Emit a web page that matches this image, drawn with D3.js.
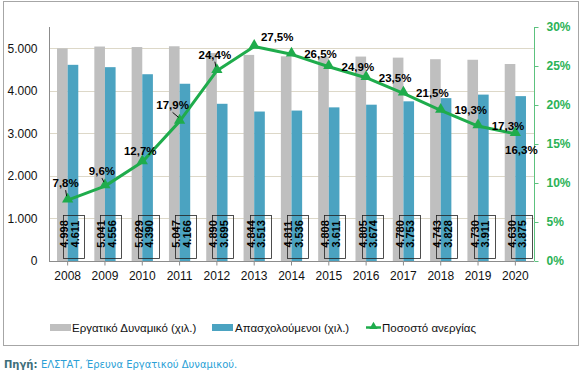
<!DOCTYPE html>
<html>
<head>
<meta charset="utf-8">
<script src="https://cdn.jsdelivr.net/npm/d3@7"></script>
<style>
  body { margin: 0; background: #fff; }
  svg { display: block; }
</style>
</head>
<body>
<div id="chart"></div>
<script>
// =======================
// COMBO CHART
// Labour force, employed (thousands) and unemployment rate
// =======================

const years = ["2008", "2009", "2010", "2011", "2012", "2013", "2014", "2015", "2016", "2017", "2018", "2019", "2020"];
const labourForce = [4998, 5041, 5029, 5047, 4890, 4844, 4811, 4808, 4805, 4780, 4743, 4730, 4630];
const employed = [4611, 4556, 4390, 4166, 3695, 3513, 3536, 3611, 3674, 3753, 3828, 3911, 3875];
const unemploymentRate = [7.8, 9.6, 12.7, 17.9, 24.4, 27.5, 26.5, 24.9, 23.5, 21.5, 19.3, 17.3, 16.3];
const leftTicks = [0, 1000, 2000, 3000, 4000, 5000];
const rightTicks = [0, 5, 10, 15, 20, 25, 30];
const seriesNames = ["Εργατικό Δυναμικό (χιλ.)", "Απασχολούμενοι (χιλ.)", "Ποσοστό ανεργίας"];

// label placement for the % labels (dx, dy from the point, leader line yes/no)
const pctLabelPos = [
  [-2, -17, true], [-3, -15, true], [-2, -11, false], [-7, -16, true], [-2, -16, true],
  [23, -10, false], [29, 0, false], [29, 0, false], [29, 0, false], [29, 0, false],
  [30, 0, false], [30, 0, false], [6, 16, false]
];

const width = 581, height = 371;
const plot = { left: 49, right: 534, top: 27, bottom: 261 };

const grayColor = "#bfbfbf", blueColor = "#4ba3c1", greenColor = "#1fac4c";

const gr = d3.formatLocale({ decimal: ",", thousands: ".", grouping: [3], currency: ["", "€"] });
const fmtInt = gr.format(",d");
const fmtPct = gr.format(".1f");

const svg = d3.select("#chart").append("svg")
  .attr("width", width)
  .attr("height", height)
  .style("font-family", "'Liberation Sans', Arial, sans-serif");

// frame around chart
svg.append("rect")
  .attr("x", 3.5).attr("y", 1.5)
  .attr("width", 575).attr("height", 344)
  .attr("fill", "#fff")
  .attr("stroke", "#a6a6a6");

// Scales
const x = d3.scaleBand().domain(years).range([plot.left, plot.right]).padding(0);
const yL = d3.scaleLinear().domain([0, 5500]).range([plot.bottom, plot.top]);
const yR = d3.scaleLinear().domain([0, 30]).range([plot.bottom, plot.top]);
const barW = x.bandwidth() * 0.285;
const cx = d => x(d) + x.bandwidth() / 2;

// Gridlines
svg.append("g").selectAll("line")
  .data(leftTicks.filter(t => t > 0))
  .enter().append("line")
    .attr("x1", plot.left).attr("x2", plot.right)
    .attr("y1", d => Math.round(yL(d)) + 0.5)
    .attr("y2", d => Math.round(yL(d)) + 0.5)
    .attr("stroke", "#ddd8c8");

// Bars
svg.append("g").selectAll("rect")
  .data(years)
  .enter().append("rect")
    .attr("x", d => cx(d) - barW)
    .attr("y", (d, i) => yL(labourForce[i]))
    .attr("width", barW)
    .attr("height", (d, i) => plot.bottom - yL(labourForce[i]))
    .attr("fill", grayColor);

svg.append("g").selectAll("rect")
  .data(years)
  .enter().append("rect")
    .attr("x", d => cx(d))
    .attr("y", (d, i) => yL(employed[i]))
    .attr("width", barW)
    .attr("height", (d, i) => plot.bottom - yL(employed[i]))
    .attr("fill", blueColor);

// Left axis
const leftAxis = svg.append("g")
  .attr("transform", `translate(${plot.left + 0.5},0)`)
  .call(d3.axisLeft(yL).tickValues(leftTicks).tickSize(0).tickPadding(12).tickFormat(fmtInt));
leftAxis.select(".domain").attr("stroke", "#8c8c8c").attr("d", `M0,${plot.top}V${plot.bottom}`);
leftAxis.selectAll("text").attr("font-size", 12).attr("font-family", "'Liberation Sans', Arial, sans-serif").attr("fill", "#111");

// Bottom axis
const bottomAxis = svg.append("g")
  .attr("transform", `translate(0,${plot.bottom + 0.5})`)
  .call(d3.axisBottom(x).tickSize(4).tickPadding(6));
bottomAxis.select(".domain").attr("stroke", "#8c8c8c").attr("d", `M${plot.left},0H${plot.right}`);
bottomAxis.selectAll("line").attr("stroke", "#8c8c8c");
bottomAxis.selectAll("text").attr("font-size", 12).attr("font-family", "'Liberation Sans', Arial, sans-serif").attr("fill", "#111");

// Right axis
const rightAxis = svg.append("g")
  .attr("transform", `translate(${plot.right + 0.5},0)`)
  .call(d3.axisRight(yR).tickValues(rightTicks).tickSize(4).tickPadding(8).tickFormat(d => d + "%"));
rightAxis.select(".domain").attr("stroke", "#5cc27e").attr("d", `M0,${plot.top}V${plot.bottom}`);
rightAxis.selectAll("line").attr("stroke", "#5cc27e");
rightAxis.selectAll("text")
  .attr("font-size", 12)
  .attr("font-weight", "bold")
  .attr("font-family", "'Liberation Sans', Arial, sans-serif")
  .attr("fill", "#2bb256");

// Value labels inside bars (rotated)
const valueLabels = svg.append("g")
  .attr("font-size", 11)
  .attr("font-weight", "bold")
  .attr("fill", "#000");

valueLabels.selectAll("rect")
  .data(years)
  .enter().append("rect")
    .attr("x", d => Math.round(cx(d) - 4.5) + 0.5)
    .attr("y", 215.5)
    .attr("width", 21)
    .attr("height", 43)
    .attr("fill", "none")
    .attr("stroke", "#222")
    .attr("stroke-width", 0.8);

valueLabels.selectAll("text.lf")
  .data(years)
  .enter().append("text")
    .attr("class", "lf")
    .attr("transform", d => `translate(${cx(d) - 3.5},234) rotate(-90)`)
    .attr("text-anchor", "middle")
    .attr("dominant-baseline", "central")
    .text((d, i) => fmtInt(labourForce[i]));

valueLabels.selectAll("text.em")
  .data(years)
  .enter().append("text")
    .attr("class", "em")
    .attr("transform", d => `translate(${cx(d) + 7},234) rotate(-90)`)
    .attr("text-anchor", "middle")
    .attr("dominant-baseline", "central")
    .text((d, i) => fmtInt(employed[i]));

// Unemployment line
const lineGen = d3.line()
  .x((d, i) => cx(years[i]))
  .y(d => yR(d));

svg.append("path")
  .datum(unemploymentRate)
  .attr("d", lineGen)
  .attr("fill", "none")
  .attr("stroke", greenColor)
  .attr("stroke-width", 3)
  .attr("stroke-linejoin", "round");

svg.append("g").selectAll("path")
  .data(unemploymentRate)
  .enter().append("path")
    .attr("d", d3.symbol(d3.symbolTriangle, 55))
    .attr("transform", (d, i) => `translate(${cx(years[i])},${yR(d) - 1})`)
    .attr("fill", greenColor);

// % labels
const pctLabels = svg.append("g");
unemploymentRate.forEach((v, i) => {
  const px = cx(years[i]), py = yR(v);
  const [dx, dy, leader] = pctLabelPos[i];
  if (leader) {
    pctLabels.append("line")
      .attr("x1", px + dx).attr("y1", py + dy + 7)
      .attr("x2", px - 1).attr("y2", py - 4)
      .attr("stroke", "#111")
      .attr("stroke-width", 1);
  }
  pctLabels.append("text")
    .attr("x", px + dx)
    .attr("y", py + dy)
    .attr("text-anchor", "middle")
    .attr("dominant-baseline", "central")
    .attr("font-size", 11.5)
    .attr("font-weight", "bold")
    .attr("fill", "#000")
    .text(fmtPct(v) + "%");
});

// Legend
const legend = svg.append("g")
  .attr("font-size", 11.5)
  .attr("fill", "#111");

legend.append("rect").attr("x", 50).attr("y", 324).attr("width", 21).attr("height", 7).attr("fill", grayColor);
legend.append("text").attr("x", 72).attr("y", 327.5).attr("dominant-baseline", "central").text(seriesNames[0]);

legend.append("rect").attr("x", 212).attr("y", 324).attr("width", 21).attr("height", 7).attr("fill", blueColor);
legend.append("text").attr("x", 235).attr("y", 327.5).attr("dominant-baseline", "central").text(seriesNames[1]);

legend.append("line").attr("x1", 366).attr("x2", 381).attr("y1", 327.5).attr("y2", 327.5)
  .attr("stroke", greenColor).attr("stroke-width", 2.5);
legend.append("path")
  .attr("d", d3.symbol(d3.symbolTriangle, 30))
  .attr("transform", "translate(373.5,326.5)")
  .attr("fill", greenColor);
legend.append("text").attr("x", 382).attr("y", 327.5).attr("dominant-baseline", "central").text(seriesNames[2]);

// Source
const source = svg.append("text")
  .attr("x", 4)
  .attr("y", 364)
  .attr("dominant-baseline", "central")
  .attr("font-size", 10)
  .attr("font-family", "'DejaVu Sans', sans-serif");
source.append("tspan").attr("fill", "#3d6e7a").attr("font-weight", "bold").text("Πηγή: ");
source.append("tspan").attr("fill", "#2a9fd6").text("ΕΛΣΤΑΤ, Έρευνα Εργατικού Δυναμικού.");
</script>
</body>
</html>
